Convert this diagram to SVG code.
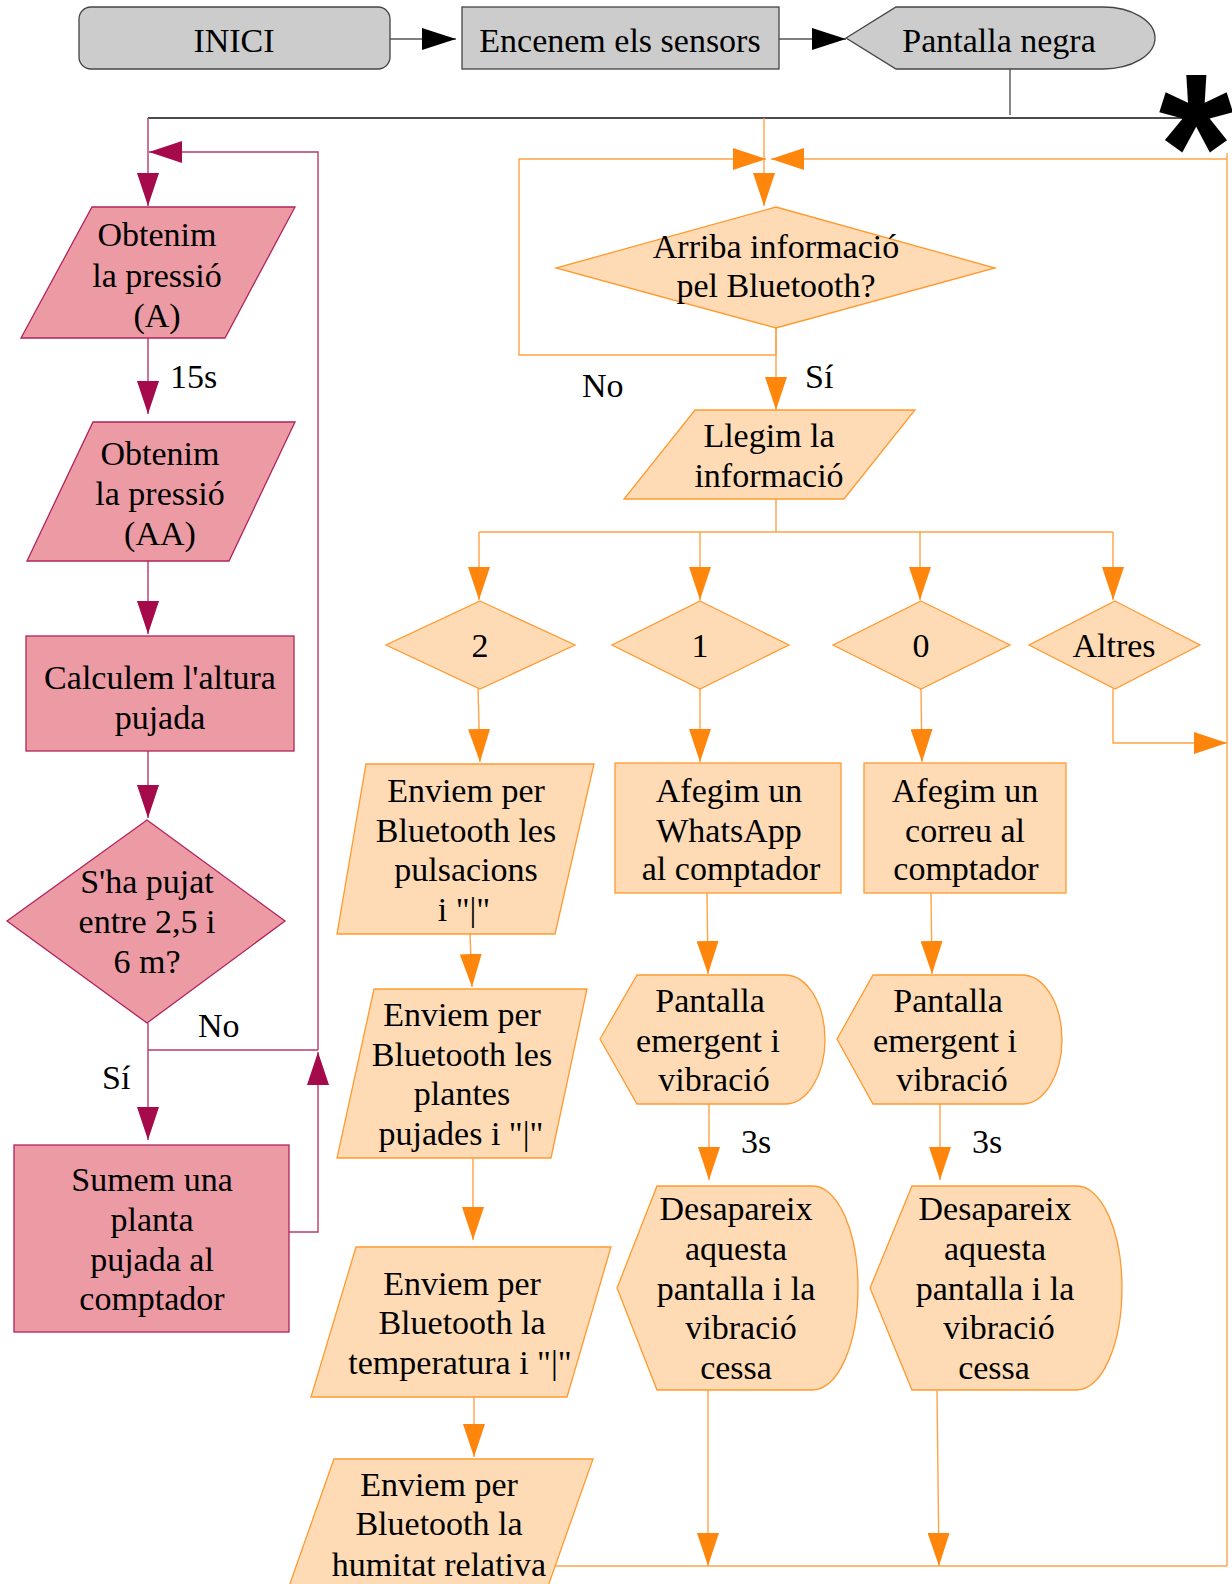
<svg xmlns="http://www.w3.org/2000/svg" width="1232" height="1584" viewBox="0 0 1232 1584">
<style>
text{font-family:"Liberation Serif","Times New Roman",serif;font-size:34px;fill:#000;text-anchor:middle}
.lab{text-anchor:start}
.g{fill:#cccccc;stroke:#444;stroke-width:1.3}
.p{fill:#ec9ba4;stroke:#b0245c;stroke-width:1.3}
.o{fill:#ffdbb5;stroke:#ff9a30;stroke-width:1.3}
.lc{fill:none;stroke:#b83a6a;stroke-width:1.4}
.lo{fill:none;stroke:#ffa347;stroke-width:1.4}
.lk{fill:none;stroke:#111;stroke-width:1.5}
.lg{fill:none;stroke:#555;stroke-width:1.4}
</style>
<defs>
<marker id="ak" markerUnits="userSpaceOnUse" markerWidth="34" markerHeight="22" refX="34" refY="11" orient="auto" viewBox="0 0 34 22"><path d="M0,0 L34,11 L0,22 Z" fill="#000"/></marker>
<marker id="ac" markerUnits="userSpaceOnUse" markerWidth="33" markerHeight="22" refX="33" refY="11" orient="auto" viewBox="0 0 33 22"><path d="M0,0 L33,11 L0,22 Z" fill="#a50a4a"/></marker>
<marker id="ao" markerUnits="userSpaceOnUse" markerWidth="33" markerHeight="22" refX="33" refY="11" orient="auto" viewBox="0 0 33 22"><path d="M0,0 L33,11 L0,22 Z" fill="#ff860d"/></marker>
</defs>
<rect width="1232" height="1584" fill="#fff"/>

<g id="connectors">
  <path class="lg" d="M390,39 H456" marker-end="url(#ak)"/>
  <path class="lg" d="M779,39 H846" marker-end="url(#ak)"/>
  <path class="lg" d="M1010,69 V115"/>
  <path class="lk" d="M148,118 H1190"/>
  <path class="lc" d="M148,118 V206" marker-end="url(#ac)"/>
  <path class="lc" d="M148,338 V414" marker-end="url(#ac)"/>
  <path class="lc" d="M148,561 V634" marker-end="url(#ac)"/>
  <path class="lc" d="M148,751 V818" marker-end="url(#ac)"/>
  <path class="lc" d="M148,1023 V1140" marker-end="url(#ac)"/>
  <path class="lc" d="M148,1050 H318"/>
  <path class="lc" d="M289,1232 H318 V1052" marker-end="url(#ac)"/>
  <path class="lc" d="M318,1050 V152 H149" marker-end="url(#ac)"/>
  <path class="lo" d="M764,118 V206" marker-end="url(#ao)"/>
  <path class="lo" d="M776,328 V355 H519 V159 H766" marker-end="url(#ao)"/>
  <path class="lo" d="M1227,159 H771" marker-end="url(#ao)"/>
  <path class="lo" d="M1227,153 V1566"/>
  <path class="lo" d="M776,328 V410" marker-end="url(#ao)"/>
  <path class="lo" d="M776,499 V532 M479,532 H1113"/>
  <path class="lo" d="M479,532 V600" marker-end="url(#ao)"/>
  <path class="lo" d="M700,532 V600" marker-end="url(#ao)"/>
  <path class="lo" d="M920,532 V600" marker-end="url(#ao)"/>
  <path class="lo" d="M1113,532 V600" marker-end="url(#ao)"/>
  <path class="lo" d="M1113,689 V743 H1227" marker-end="url(#ao)"/>
  <path class="lo" d="M478,689 L480,762" marker-end="url(#ao)"/>
  <path class="lo" d="M470,934 L472,987" marker-end="url(#ao)"/>
  <path class="lo" d="M473,1158 V1240" marker-end="url(#ao)"/>
  <path class="lo" d="M474,1397 V1457" marker-end="url(#ao)"/>
  <path class="lo" d="M555,1566 H1227"/>
  <path class="lo" d="M700,689 V762" marker-end="url(#ao)"/>
  <path class="lo" d="M707,893 L708,974" marker-end="url(#ao)"/>
  <path class="lo" d="M709,1104 V1180" marker-end="url(#ao)"/>
  <path class="lo" d="M708,1390 V1566" marker-end="url(#ao)"/>
  <path class="lo" d="M921,689 L922,762" marker-end="url(#ao)"/>
  <path class="lo" d="M931,893 L932,974" marker-end="url(#ao)"/>
  <path class="lo" d="M940,1104 V1180" marker-end="url(#ao)"/>
  <path class="lo" d="M937,1390 L939,1566" marker-end="url(#ao)"/>
</g>

<g id="labels">
  <text class="lab" x="170" y="388">15s</text>
  <text class="lab" x="198" y="1037">No</text>
  <text class="lab" x="102" y="1089">Sí</text>
  <text class="lab" x="582" y="397">No</text>
  <text class="lab" x="805" y="388">Sí</text>
  <text class="lab" x="741" y="1153">3s</text>
  <text class="lab" x="972" y="1153">3s</text>
  <text x="1196" y="218" style="font-family:'Liberation Sans',Arial,sans-serif;font-weight:bold;font-size:208px" transform="translate(1196,0) scale(0.92,1) translate(-1196,0)">*</text>
</g>

<g id="inici">
  <rect class="g" x="79" y="7" width="311" height="62" rx="12"/>
  <text x="234" y="52">INICI</text>
</g>
<g id="encenem">
  <rect class="g" x="462" y="7" width="317" height="62"/>
  <text x="620" y="52">Encenem els sensors</text>
</g>
<g id="pantalla-negra">
  <path class="g" d="M846,38 L896,7 H1103 A52,31 0 0 1 1103,69 H896 Z"/>
  <text x="999" y="52">Pantalla negra</text>
</g>

<g id="obtenim-a">
  <path class="p" d="M92,207 H295 L225,338 H21 Z"/>
  <text x="157" y="246">Obtenim</text>
  <text x="157" y="287">la pressió</text>
  <text x="157" y="327">(A)</text>
</g>
<g id="obtenim-aa">
  <path class="p" d="M93,422 H295 L229,561 H27 Z"/>
  <text x="160" y="465">Obtenim</text>
  <text x="160" y="505">la pressió</text>
  <text x="160" y="545">(AA)</text>
</g>
<g id="calculem">
  <rect class="p" x="26" y="636" width="268" height="115"/>
  <text x="160" y="689">Calculem l'altura</text>
  <text x="160" y="729">pujada</text>
</g>
<g id="sha-pujat">
  <path class="p" d="M147,820 L285,921 L147,1023 L7,921 Z"/>
  <text x="147" y="893">S'ha pujat</text>
  <text x="147" y="933">entre 2,5 i</text>
  <text x="147" y="973">6 m?</text>
</g>
<g id="sumem">
  <rect class="p" x="14" y="1145" width="275" height="187"/>
  <text x="152" y="1191">Sumem una</text>
  <text x="152" y="1231">planta</text>
  <text x="152" y="1271">pujada al</text>
  <text x="152" y="1310">comptador</text>
</g>

<g id="arriba">
  <path class="o" d="M776,207 L995,268 L776,328 L556,268 Z"/>
  <text x="776" y="258">Arriba informació</text>
  <text x="776" y="297">pel Bluetooth?</text>
</g>
<g id="llegim">
  <path class="o" d="M695,410 H915 L844,499 H624 Z"/>
  <text x="769" y="447">Llegim la</text>
  <text x="769" y="487">informació</text>
</g>
<g id="d2">
  <path class="o" d="M480,601 L575,645 L480,689 L386,645 Z"/>
  <text x="480" y="657">2</text>
</g>
<g id="d1">
  <path class="o" d="M700,601 L789,645 L700,689 L612,645 Z"/>
  <text x="700" y="657">1</text>
</g>
<g id="d0">
  <path class="o" d="M921,601 L1010,645 L921,689 L833,645 Z"/>
  <text x="921" y="657">0</text>
</g>
<g id="daltres">
  <path class="o" d="M1115,601 L1200,645 L1115,689 L1029,645 Z"/>
  <text x="1114" y="657">Altres</text>
</g>

<g id="pulsacions">
  <path class="o" d="M366,764 H594 L555,934 H337 Z"/>
  <text x="466" y="802">Enviem per</text>
  <text x="466" y="842">Bluetooth les</text>
  <text x="466" y="881">pulsacions</text>
  <text x="464" y="921">i "|"</text>
</g>
<g id="plantes">
  <path class="o" d="M374,989 H587 L551,1158 H337 Z"/>
  <text x="462" y="1026">Enviem per</text>
  <text x="462" y="1066">Bluetooth les</text>
  <text x="462" y="1105">plantes</text>
  <text x="461" y="1145">pujades i "|"</text>
</g>
<g id="temperatura">
  <path class="o" d="M356,1247 H611 L567,1397 H311 Z"/>
  <text x="462" y="1295">Enviem per</text>
  <text x="462" y="1334">Bluetooth la</text>
  <text x="460" y="1374">temperatura i "|"</text>
</g>
<g id="humitat">
  <path class="o" d="M334,1459 H593 L540,1609 H281 Z"/>
  <text x="439" y="1496">Enviem per</text>
  <text x="439" y="1535">Bluetooth la</text>
  <text x="439" y="1576">humitat relativa</text>
</g>

<g id="whatsapp">
  <rect class="o" x="615" y="763" width="226" height="130"/>
  <text x="729" y="802">Afegim un</text>
  <text x="729" y="842">WhatsApp</text>
  <text x="731" y="880">al comptador</text>
</g>
<g id="pantalla-1">
  <path class="o" d="M600,1039 L637,975 H785 A40,64.5 0 0 1 785,1104 H637 Z"/>
  <text x="710" y="1012">Pantalla</text>
  <text x="708" y="1052">emergent i</text>
  <text x="714" y="1091">vibració</text>
</g>
<g id="desapareix-1">
  <path class="o" d="M617,1288 L657,1186 H813 A45,102 0 0 1 813,1390 H657 Z"/>
  <text x="736" y="1220">Desapareix</text>
  <text x="736" y="1260">aquesta</text>
  <text x="736" y="1300">pantalla i la</text>
  <text x="741" y="1339">vibració</text>
  <text x="736" y="1379">cessa</text>
</g>

<g id="correu">
  <rect class="o" x="864" y="763" width="202" height="130"/>
  <text x="965" y="802">Afegim un</text>
  <text x="965" y="842">correu al</text>
  <text x="966" y="880">comptador</text>
</g>
<g id="pantalla-0">
  <path class="o" d="M837,1039 L873,975 H1022 A40,64.5 0 0 1 1022,1104 H873 Z"/>
  <text x="948" y="1012">Pantalla</text>
  <text x="945" y="1052">emergent i</text>
  <text x="952" y="1091">vibració</text>
</g>
<g id="desapareix-0">
  <path class="o" d="M870,1288 L912,1186 H1077 A45,102 0 0 1 1077,1390 H912 Z"/>
  <text x="995" y="1220">Desapareix</text>
  <text x="995" y="1260">aquesta</text>
  <text x="995" y="1300">pantalla i la</text>
  <text x="999" y="1339">vibració</text>
  <text x="994" y="1379">cessa</text>
</g>
</svg>
